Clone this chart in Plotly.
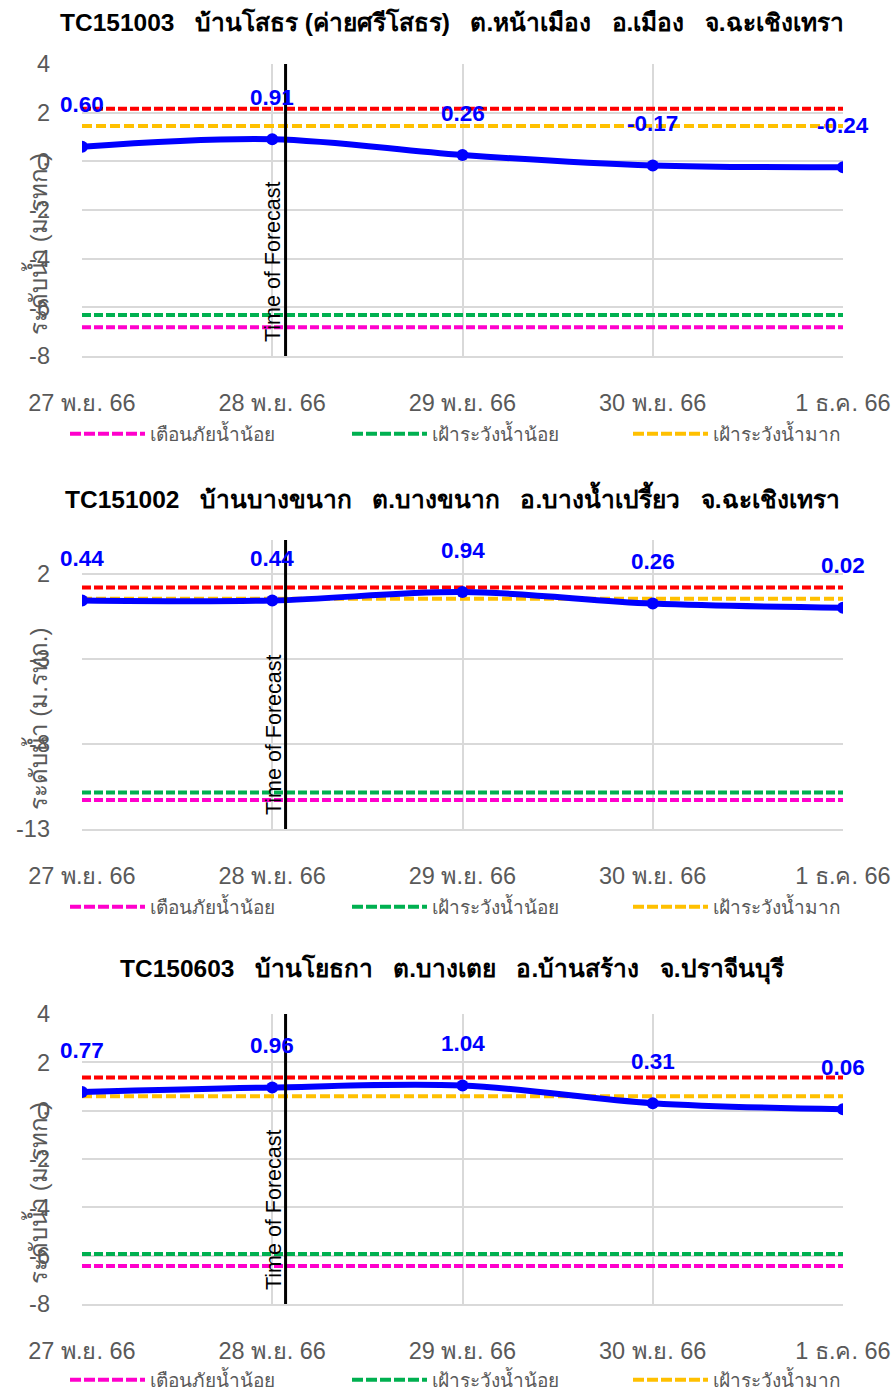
import plotly.graph_objects as go

# ---------------- data ----------------
dates = ["27 พ.ย. 66", "28 พ.ย. 66", "29 พ.ย. 66", "30 พ.ย. 66", "1 ธ.ค. 66"]

NB = "\u00a0\u00a0\u00a0"
titles = [
    "TC151003" + NB + "บ้านโสธร (ค่ายศรีโสธร)" + NB + "ต.หน้าเมือง" + NB + "อ.เมือง" + NB + "จ.ฉะเชิงเทรา",
    "TC151002" + NB + "บ้านบางขนาก" + NB + "ต.บางขนาก" + NB + "อ.บางน้ำเปรี้ยว" + NB + "จ.ฉะเชิงเทรา",
    "TC150603" + NB + "บ้านโยธกา" + NB + "ต.บางเตย" + NB + "อ.บ้านสร้าง" + NB + "จ.ปราจีนบุรี",
]

level_1 = [0.60, 0.91, 0.26, -0.17, -0.24]
level_2 = [0.44, 0.44, 0.94, 0.26, 0.02]
level_3 = [0.77, 0.96, 1.04, 0.31, 0.06]

# threshold levels (m MSL): red (bank), orange, green, magenta
red_levels = [2.16, 1.20, 1.37]
orange_levels = [1.45, 0.55, 0.60]
green_levels = [-6.32, -10.85, -5.93]
magenta_levels = [-6.82, -11.30, -6.43]

y_tickvals = [[-8, -6, -4, -2, 0, 2, 4], [-13, -8, -3, 2], [-8, -6, -4, -2, 0, 2, 4]]
y_ticktext = [["-8", "-6", "-4", "-2", "0", "2", "4"], ["-13", "-8", "-3", "2"],
              ["-8", "-6", "-4", "-2", "0", "2", "4"]]
y_ranges = [[-8, 4], [-13, 4], [-8, 4]]

legend_names = ["เตือนภัยน้ำน้อย", "เฝ้าระวังน้ำน้อย", "เฝ้าระวังน้ำมาก"]
y_title = "ระดับน้ำ (ม.รทก.)"
forecast_label = "Time of Forecast"
forecast_x = 1.07  # between 28 and 29 Nov (category index)

levels = [level_1, level_2, level_3]

# ---------------- layout geometry (page pixels) ----------------
W, H = 893, 1392
plot_left, plot_right = 82, 843
plot_tops = [64, 540, 1014]
plot_bottoms = [356, 829, 1304]
title_ys = [22, 497, 969]
legend_ys = [434, 907, 1380]
legend_xs = [73, 355, 636]

FONT = "Liberation Sans, Arial, Tahoma, sans-serif"
GRAY = "#595959"
GRID = "#D9D9D9"
COL_MAG, COL_GRN, COL_ORG, COL_RED = "#FF00CC", "#00B050", "#FFC000", "#FF0000"


def px(x):
    return x / W


def py(y):
    return 1 - y / H


fig = go.Figure()
annotations = []
shapes = []
layout_extra = {}
leg_idx = 0

for i in range(3):
    sfx = "" if i == 0 else str(i + 1)
    xa = "x" + sfx
    ya = "y" + sfx
    n = len(dates)

    # threshold lines
    for val, col, dash, nm in [
        (red_levels[i], COL_RED, "9px,3px", "ระดับตลิ่ง"),
        (orange_levels[i], COL_ORG, "10px,4px", legend_names[2]),
        (green_levels[i], COL_GRN, "9px,3px", legend_names[1]),
        (magenta_levels[i], COL_MAG, "9px,3px", legend_names[0]),
    ]:
        fig.add_trace(go.Scatter(
            x=dates, y=[val] * n, mode="lines", name=nm,
            line=dict(color=col, width=4, dash=dash),
            showlegend=False, xaxis=xa, yaxis=ya))

    # legend entries (one legend each, to place them like the reference)
    for j, (nm, col) in enumerate(zip(legend_names, [COL_MAG, COL_GRN, COL_ORG])):
        leg_idx += 1
        lg = "legend" if leg_idx == 1 else "legend%d" % leg_idx
        fig.add_trace(go.Scatter(
            x=[None], y=[None], mode="lines", name=nm,
            line=dict(color=col, width=4, dash="11px,3px"),
            showlegend=True, legend=lg, xaxis=xa, yaxis=ya))
        layout_extra[lg] = dict(
            orientation="h", x=px(legend_xs[j] - 8), y=py(legend_ys[i]),
            xanchor="left", yanchor="middle", itemwidth=75,
            bgcolor="rgba(0,0,0,0)", borderwidth=0,
            font=dict(family=FONT, size=19, color=GRAY))

    # water level
    fig.add_trace(go.Scatter(
        x=dates, y=levels[i], mode="lines+markers", name="ระดับน้ำ",
        line=dict(color="#0000FF", width=6, shape="spline"),
        marker=dict(color="#0000FF", size=12),
        showlegend=False, xaxis=xa, yaxis=ya))

    # data labels
    for d, v in zip(dates, levels[i]):
        annotations.append(dict(
            x=d, y=v, xref=xa, yref=ya, text="<b>%.2f</b>" % v,
            showarrow=False, yshift=42,
            font=dict(family=FONT, size=22.5, color="#0000FF")))

    # forecast line and label
    shapes.append(dict(type="line", xref=xa, yref=ya + " domain",
                       x0=forecast_x, x1=forecast_x, y0=0, y1=1,
                       line=dict(color="black", width=3)))
    annotations.append(dict(
        x=forecast_x, y=y_ranges[i][0], xref=xa, yref=ya,
        text=forecast_label, textangle=-90, showarrow=False,
        xanchor="right", yanchor="bottom", yshift=12, xshift=2,
        font=dict(family=FONT, size=21.5, color="black")))

    # title
    annotations.append(dict(
        x=px(452.5), y=py(title_ys[i]), xref="paper", yref="paper",
        text="<b>" + titles[i] + "</b>", showarrow=False,
        xanchor="center", yanchor="middle",
        font=dict(family=FONT, size=24.5, color="black")))

    # y-axis title
    yc = (plot_tops[i] + plot_bottoms[i]) / 2 + 34
    annotations.append(dict(
        x=px(36), y=py(yc), xref="paper", yref="paper",
        text=y_title, textangle=-90, showarrow=False,
        xanchor="center", yanchor="middle",
        font=dict(family=FONT, size=24, color=GRAY)))

    layout_extra["xaxis" + sfx] = dict(
        domain=[px(plot_left), px(plot_right)], anchor=ya, automargin=False,
        type="category", range=[0, 4], showgrid=True, gridcolor=GRID,
        gridwidth=1.5, zeroline=False, showline=True, linecolor=GRID,
        linewidth=1.5, ticks="", ticklabelstandoff=25,
        tickfont=dict(family=FONT, size=23.5, color=GRAY))
    layout_extra["yaxis" + sfx] = dict(
        domain=[py(plot_bottoms[i]), py(plot_tops[i])], anchor=xa,
        automargin=False, range=y_ranges[i],
        tickmode="array", tickvals=y_tickvals[i], ticktext=y_ticktext[i],
        showgrid=True, gridcolor=GRID, gridwidth=1.5, zeroline=False,
        showline=False, ticks="", ticklabelstandoff=31,
        tickfont=dict(family=FONT, size=23.5, color=GRAY))

fig.update_layout(
    width=W, height=H, margin=dict(l=0, r=0, t=0, b=0, autoexpand=False),
    paper_bgcolor="white", plot_bgcolor="white",
    annotations=annotations, shapes=shapes, **layout_extra)

fig.write_html(
    "out.html",
    config={"displayModeBar": False},
    post_script="document.body.style.margin='0';document.body.style.overflow='hidden';")
